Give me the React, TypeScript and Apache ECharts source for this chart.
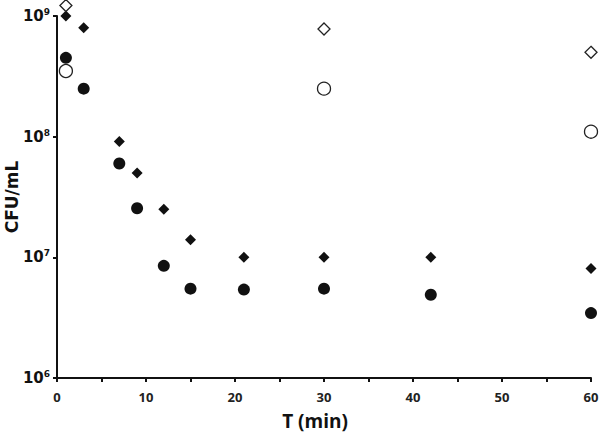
import React, { useEffect, useRef } from "react";
import * as echarts from "echarts";

const times = [1, 3, 7, 9, 12, 15, 21, 30, 42, 60];
const filledDiamond = [1.0e9, 8.0e8, 9.1e7, 5.0e7, 2.5e7, 1.4e7, 1.0e7, 1.0e7, 1.0e7, 8.1e6];
const filledCircle = [4.5e8, 2.5e8, 6.0e7, 2.55e7, 8.5e6, 5.5e6, 5.4e6, 5.5e6, 4.9e6, 3.45e6];
const openTimes = [1, 30, 60];
const openDiamond = [1.22e9, 7.8e8, 5.0e8];
const openCircle = [3.5e8, 2.5e8, 1.1e8];

const pairs = (xs: number[], ys: number[]) => xs.map((x, i) => [x, ys[i]]);

export default function App() {
  const ref = useRef<HTMLDivElement>(null);
  useEffect(() => {
    if (!ref.current) return;
    const chart = echarts.init(ref.current, null, { renderer: "svg" });
    chart.setOption({
      animation: false,
      backgroundColor: "#fff",
      grid: { left: 57, right: 9, top: 16, bottom: 55, outerBoundsMode: "none", containLabel: false },
      xAxis: {
        type: "value",
        min: 0,
        max: 60,
        interval: 5,
        name: "T (min)",
        nameLocation: "middle",
        nameGap: 33,
        nameMoveOverlap: false,
        nameTextStyle: {
          fontFamily: "Open Sans",
          fontWeight: "bold",
          fontSize: 19,
          lineHeight: 19,
          color: "#111",
          padding: [0, 18, 0, 0],
        },
        axisLine: { lineStyle: { color: "#111", width: 2 } },
        axisTick: { show: true, length: 4, lineStyle: { color: "#111", width: 2 } },
        axisLabel: {
          margin: 12,
          fontFamily: "Open Sans",
          fontWeight: "bold",
          fontSize: 13,
          lineHeight: 13,
          color: "#222",
          formatter: (v: number) => (v % 10 === 0 ? String(v) : ""),
        },
        splitLine: { show: false },
      },
      yAxis: {
        type: "log",
        logBase: 10,
        min: 1e6,
        max: 1e9,
        name: "CFU/mL",
        nameLocation: "middle",
        nameGap: 37,
        nameMoveOverlap: false,
        nameTextStyle: {
          fontFamily: "DejaVu Sans",
          fontWeight: "bold",
          fontSize: 17,
          color: "#111",
        },
        axisLine: { show: true, lineStyle: { color: "#111", width: 2 } },
        axisTick: { show: true, length: 4, lineStyle: { color: "#111", width: 2 } },
        axisLabel: {
          margin: 7,
          fontSize: 15,
          fontFamily: "DejaVu Sans",
          fontWeight: "bold",
          color: "#111",
          formatter: (v: number) => `{b|10}{s|${Math.round(Math.log10(v))}}`,
          rich: {
            b: { fontFamily: "DejaVu Sans", fontWeight: "bold", fontSize: 15, color: "#111" },
            s: {
              fontFamily: "DejaVu Sans",
              fontSize: 9,
              color: "#111",
              verticalAlign: "top",
              padding: [0, 0, 8, 0],
            },
          },
        },
        splitLine: { show: false },
      },
      series: [
        {
          type: "scatter",
          clip: false,
          data: pairs(times, filledDiamond),
          symbol: "diamond",
          symbolSize: [11, 11],
          itemStyle: { color: "#111", opacity: 1 },
        },
        {
          type: "scatter",
          clip: false,
          data: pairs(times, filledCircle),
          symbol: "circle",
          symbolSize: 12,
          itemStyle: { color: "#111", opacity: 1 },
        },
        {
          type: "scatter",
          clip: false,
          data: pairs(openTimes, openDiamond),
          symbol: "diamond",
          symbolSize: 12,
          itemStyle: { color: "#fff", borderColor: "#222", borderWidth: 1.3, opacity: 1 },
        },
        {
          type: "scatter",
          clip: false,
          data: pairs(openTimes, openCircle),
          symbol: "circle",
          symbolSize: 13,
          itemStyle: { color: "#fff", borderColor: "#222", borderWidth: 1.3, opacity: 1 },
        },
      ],
    });
    return () => chart.dispose();
  }, []);
  return <div ref={ref} style={{ width: 600, height: 433, position: "absolute", left: 0, top: 0 }} />;
}
